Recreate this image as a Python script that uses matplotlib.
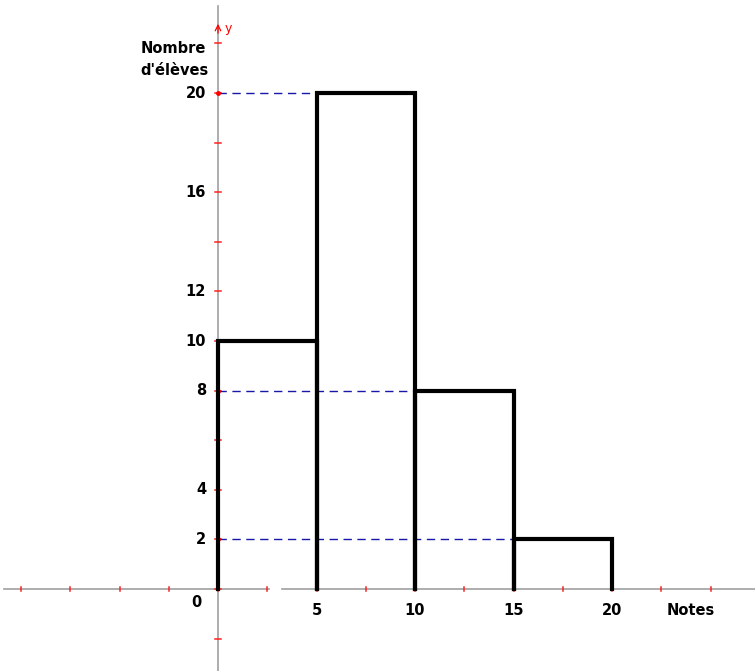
import numpy as np
import matplotlib
matplotlib.use("Agg")
import matplotlib.pyplot as plt

# histogram data
bornes = [0, 5, 10, 15, 20]
effectifs = [10, 20, 8, 2]
x_labels = [5, 10, 15, 20]
y_labels = [2, 4, 8, 10, 12, 16, 20]
dash_levels = [20, 8, 2]
dash_ends = [5, 10, 15]

fig = plt.figure(figsize=(7.55, 6.71), dpi=100)
ax = fig.add_axes([0, 0, 1, 1])
ax.set_xlim(-218 / 19.7, (755 - 218) / 19.7)
ax.set_ylim(-(671 - 589) / 24.8, 589 / 24.8)
ax.axis('off')

# axes (gray) - x axis has a small gap like the original
ax.plot([-10.85, 2.6], [0, 0], color='#a0a0a0', lw=1.2, zorder=1)
ax.plot([3.25, 27.3], [0, 0], color='#a0a0a0', lw=1.2, zorder=1)
ax.plot([0, 0], [-3.3, 23.5], color='#a0a0a0', lw=1.2, zorder=1)

# red ticks
for t in np.arange(-10, 25.1, 2.5):
    if 2.6 < t < 3.25:
        continue
    ax.plot([t, t], [-0.1, 0.1], color='#ff2020', lw=1.1, zorder=2)
for t in range(-2, 23, 2):
    ax.plot([-0.13, 0.13], [t, t], color='#ff2020', lw=1.1, zorder=2)
ax.annotate('', xy=(0, 22.9), xytext=(0, 22.3),
            arrowprops=dict(arrowstyle='->', color='red', lw=0.9))
ax.text(0.35, 22.6, 'y', color='red', fontsize=9, ha='left', va='center')

# dashed reading lines
for lvl, xe in zip(dash_levels, dash_ends):
    ax.plot([0, xe], [lvl, lvl], color='#1818a8', lw=1, ls=(0, (6, 4)), zorder=3)
    ax.plot(0, lvl, 'o', color='red', ms=2.5, zorder=4)

# histogram outline
for i, h in enumerate(effectifs):
    x0, x1 = bornes[i], bornes[i + 1]
    ax.plot([x0, x0, x1, x1], [0, h, h, 0], color='black', lw=3,
            solid_joinstyle='miter', zorder=5)

# labels
for v in x_labels:
    ax.text(v, -0.55, str(v), fontsize=10.5, fontweight='bold',
            ha='center', va='top')
ax.text(-1.1, -0.25, '0', fontsize=10.5, fontweight='bold', ha='center', va='top')
for v in y_labels:
    ax.text(-0.6, v, str(v), fontsize=10.5, fontweight='bold',
            ha='right', va='center')
ax.text(-3.95, 21.35, "Nombre\nd'élèves", fontsize=10.5, fontweight='bold',
        ha='left', va='center', linespacing=1.55)
ax.text(24.0, -0.55, 'Notes', fontsize=10.5, fontweight='bold',
        ha='center', va='top')

fig.savefig('out.png', dpi=100)
